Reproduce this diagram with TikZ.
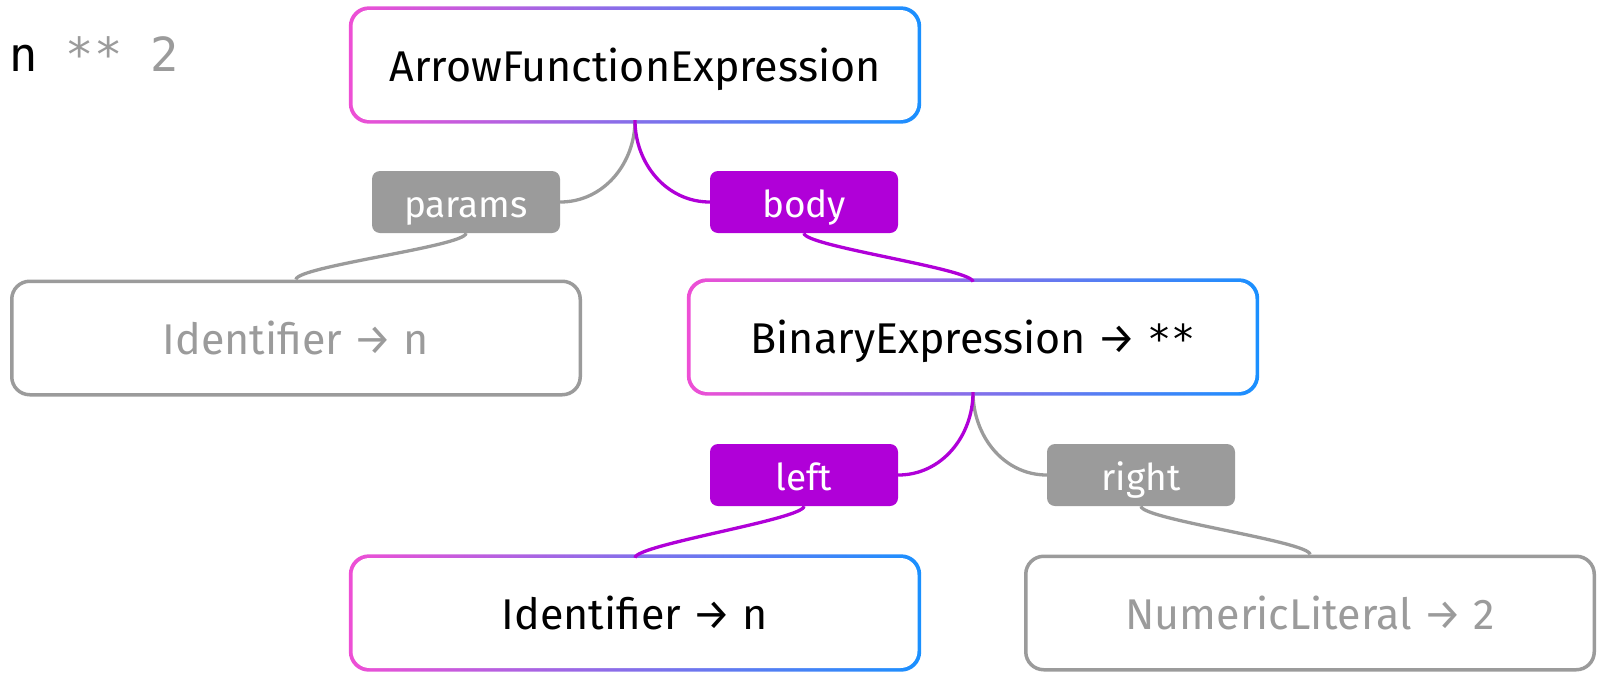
\documentclass[tikz,border=0pt]{standalone}
\usepackage{fontspec}
\setmainfont{Fira Sans}
\newfontfamily\codefont{DejaVu Sans Mono}
\usetikzlibrary{calc}
\pgfdeclarelayer{background}
\pgfsetlayers{background,main}
\definecolor{pinkC}{HTML}{EE4FD5}
\definecolor{blueC}{HTML}{1A90FF}
\definecolor{purpC}{HTML}{B000D8}
\definecolor{greyC}{HTML}{9B9B9B}
\tikzset{
  box/.style={rectangle, rounded corners=17pt, minimum width=565pt, minimum height=110pt,
    inner sep=0pt, text height=38pt, text depth=5pt, font=\fontsize{43}{50}\selectfont},
  gradbox/.style={box, fill=white, text=black},
  greybox/.style={box, draw=greyC, line width=3.5pt, minimum width=568.5pt, minimum height=113.5pt,
    rounded corners=18pt, fill=white, text=greyC},
  lab/.style={rectangle, rounded corners=8pt, minimum width=188pt, minimum height=62pt,
    inner sep=0pt, text height=36pt, text depth=6pt, text=white, font=\fontsize{37}{44}\selectfont},
  purplab/.style={lab, fill=purpC},
  greylab/.style={lab, fill=greyC},
  conn/.style={line width=3.3pt},
  pconn/.style={conn, draw=purpC},
  gconn/.style={conn, draw=greyC},
}
\newcommand{\gradframe}[1]{%
  \begin{pgfonlayer}{background}
    \shade[left color=pinkC, right color=blueC, rounded corners=20pt]
      ($(#1.south west)+(-3.5,3.5)$) rectangle ($(#1.north east)+(3.5,-3.5)$);
  \end{pgfonlayer}}
\begin{document}
\begin{tikzpicture}[x=1pt, y=-1pt]
\useasboundingbox (0,0) rectangle (1602,672);
\node[anchor=base west, inner sep=0pt, font=\codefont\fontsize{47}{50}\selectfont] (code) at (9,71)
  {n \textcolor{greyC}{** 2}};
\node[gradbox] (afe) at (635,65) {ArrowFunctionExpression};
\node[greylab] (params) at (466,202) {params};
\node[purplab] (body) at (804,202) {body};
\node[greybox] (idg) at (296,338) {Identifier → n};
\node[gradbox] (bin) at (973,337) {BinaryExpression → {\codefont\fontsize{40}{50}\selectfont **}};
\node[purplab] (left) at (804,475) {left};
\node[greylab] (right) at (1141,475) {right};
\node[gradbox] (idc) at (635,613) {Identifier → n};
\node[greybox] (num) at (1310,613) {NumericLiteral → 2};
\gradframe{afe}
\gradframe{bin}
\gradframe{idc}
\draw[gconn] (afe.south) to[out=-90, in=0] (params.east);
\draw[pconn] (afe.south) to[out=-90, in=180] (body.west);
\draw[gconn] (params.south) .. controls +(0,13) and +(0,-13) .. (idg.north);
\draw[pconn] (body.south) .. controls +(0,13) and +(0,-13) .. (bin.north);
\draw[gconn] (bin.south) to[out=-90, in=180] (right.west);
\draw[pconn] (bin.south) to[out=-90, in=0] (left.east);
\draw[pconn] (left.south) .. controls +(0,13) and +(0,-13) .. (idc.north);
\draw[gconn] (right.south) .. controls +(0,13) and +(0,-13) .. (num.north);
\end{tikzpicture}
\end{document}
